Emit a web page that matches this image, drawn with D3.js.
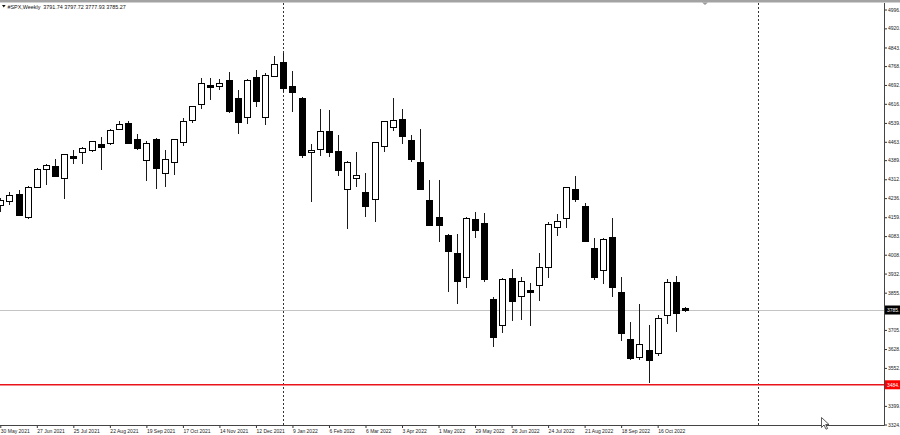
<!DOCTYPE html>
<html><head><meta charset="utf-8">
<script src="https://cdn.jsdelivr.net/npm/d3@7/dist/d3.min.js"></script>
<style>
html,body{margin:0;padding:0;background:#fff;}
svg{display:block;font-family:"Liberation Sans",Arial,sans-serif;}
</style></head>
<body>
<svg id="chart" width="900" height="435"></svg>
<script>
// ---- data ----
const weeks = [
"2021-05-30","2021-06-06","2021-06-13","2021-06-20","2021-06-27","2021-07-04","2021-07-11","2021-07-18","2021-07-25","2021-08-01",
"2021-08-08","2021-08-15","2021-08-22","2021-08-29","2021-09-05","2021-09-12","2021-09-19","2021-09-26","2021-10-03","2021-10-10",
"2021-10-17","2021-10-24","2021-10-31","2021-11-07","2021-11-14","2021-11-21","2021-11-28","2021-12-05","2021-12-12","2021-12-19",
"2021-12-26","2022-01-02","2022-01-09","2022-01-16","2022-01-23","2022-01-30","2022-02-06","2022-02-13","2022-02-20","2022-02-27",
"2022-03-06","2022-03-13","2022-03-20","2022-03-27","2022-04-03","2022-04-10","2022-04-17","2022-04-24","2022-05-01","2022-05-08",
"2022-05-15","2022-05-22","2022-05-29","2022-06-05","2022-06-12","2022-06-19","2022-06-26","2022-07-03","2022-07-10","2022-07-17",
"2022-07-24","2022-07-31","2022-08-07","2022-08-14","2022-08-21","2022-08-28","2022-09-04","2022-09-11","2022-09-18","2022-09-25",
"2022-10-02","2022-10-09","2022-10-16","2022-10-23","2022-10-30","2022-11-06"];
const open  = [4210,4226,4252,4160,4282,4352,4365,4316,4404,4420, 4428,4454,4457,4513,4540,4474,4390,4476,4338,4380,
               4462,4552,4614,4693,4686,4712,4641,4562,4723,4562, 4728,4786,4688,4641,4421,4435,4506,4427,4272,4318,
               4262,4232,4447,4524,4554,4469,4383,4228,4161,4088, 4013,3919,4152,4137,3828,3724,3913,3842,3866,3885,
               3960,4121,4155,4272,4205,4034,3946,4078,3859,3668, 3595,3624,3613,3764,3897,3791.74];
const high  = [4238,4262,4268,4286,4356,4372,4394,4415,4430,4442, 4468,4481,4513,4546,4548,4494,4465,4480,4430,4476,
               4560,4608,4719,4720,4718,4744,4672,4714,4754,4742, 4809,4819,4749,4645,4454,4595,4591,4490,4386,4421,
               4336,4463,4548,4638,4594,4490,4515,4309,4309,4092, 4090,4158,4181,4175,3838,3914,3950,3920,3893,4014,
               4140,4172,4281,4325,4218,4074,4077,4155,3920,3738, 3809,3724,3765,3912,3922,3797.72];
const low   = [4180,4210,4164,4150,4277,4289,4321,4231,4373,4373, 4420,4350,4450,4510,4455,4428,4306,4273,4279,4329,
               4445,4537,4596,4631,4673,4580,4496,4535,4602,4532, 4728,4665,4582,4396,4222,4406,4401,4325,4110,4282,
               4159,4141,4423,4508,4453,4383,4267,4124,4060,3858, 3810,3875,4074,3900,3637,3691,3741,3745,3722,3823,
               3913,4083,4114,4219,4063,3905,3889,3839,3660,3584, 3584,3490,3600,3729,3698,3777.93];
const close = [4230,4247,4170,4281,4352,4369,4327,4412,4398,4438, 4466,4443,4510,4536,4460,4437,4457,4357,4394,4474,
               4546,4607,4699,4684,4698,4586,4541,4712,4627,4732, 4775,4678,4665,4410,4430,4506,4423,4349,4383,4330,
               4206,4461,4547,4550,4486,4392,4274,4129,4128,4024, 3901,4155,4108,3909,3678,3909,3823,3902,3859,3960,
               4132,4144,4280,4231,4063,3919,4070,3879,3691,3591, 3647,3584,3752,3900,3774,3785.27];
const priceTicks = [4996,4920,4843,4768,4692,4616,4539,4463,4389,4312,4236,4159,4083,4008,3932,3855,3780,3705,3628,3552,3475,3399,3324];
const dateTicks = ["2021-05-30","2021-06-27","2021-07-25","2021-08-22","2021-09-19","2021-10-17","2021-11-14","2021-12-12",
                   "2022-01-09","2022-02-06","2022-03-06","2022-04-03","2022-05-01","2022-05-29","2022-06-26","2022-07-24",
                   "2022-08-21","2022-09-18","2022-10-16"];
const separators = ["2022-01-02","2023-01-01"];
const lastPrice = 3785.27;
const levelPrice = 3484;
const headerText = "#SPX,Weekly  3791.74 3797.72 3777.93 3785.27";

// ---- chart ----
const parse = d3.utcParse("%Y-%m-%d");
const fmt = d3.utcFormat("%-d %b %Y");
const svg = d3.select("#chart");
const W = 900, H = 435, axisX = 884, axisY = 425, topY = 3;

const x = d3.scaleUtc().domain([parse(weeks[0]), parse(weeks[weeks.length-1])]).range([0.3, 685.05]);
const y = d3.scaleLinear().domain([3324, 4996]).range([424.5, 9.5]);

const bars = weeks.map((w,i)=>({d:parse(w),o:open[i],h:high[i],l:low[i],c:close[i]}));

svg.append("rect").attr("x",0).attr("y",0).attr("width",W).attr("height",H).attr("fill","#fff");
svg.append("defs").append("clipPath").attr("id","plot").append("rect")
  .attr("x",0).attr("y",topY).attr("width",axisX).attr("height",axisY-topY);

const plot = svg.append("g").attr("clip-path","url(#plot)");

// separators
plot.selectAll("line.sep").data(separators).join("line").attr("class","sep")
  .attr("x1",d=>Math.round(x(parse(d)))+0.5).attr("x2",d=>Math.round(x(parse(d)))+0.5)
  .attr("y1",topY).attr("y2",axisY)
  .attr("stroke","#333").attr("stroke-width",1).attr("stroke-dasharray","2,2");

// last price line
plot.append("line").attr("x1",0).attr("x2",axisX).attr("y1",Math.round(y(lastPrice))+0.5).attr("y2",Math.round(y(lastPrice))+0.5)
  .attr("stroke","#c4c4c4").attr("stroke-width",1);

// candles
const cg = plot.selectAll("g.c").data(bars).join("g").attr("class","c").attr("shape-rendering","crispEdges");
cg.append("line")
  .attr("x1",d=>Math.round(x(d.d))+0.5).attr("x2",d=>Math.round(x(d.d))+0.5)
  .attr("y1",d=>y(d.h)).attr("y2",d=>y(d.l)).attr("stroke","#1a1a1a").attr("stroke-width",1);
cg.append("rect")
  .attr("x",d=>Math.round(x(d.d))-3+0.5).attr("width",6)
  .attr("y",d=>Math.round(y(Math.max(d.o,d.c)))+0.5)
  .attr("height",d=>Math.max(0,Math.round(y(Math.min(d.o,d.c)))-Math.round(y(Math.max(d.o,d.c)))))
  .attr("fill",d=>d.c>=d.o?"#fff":"#000").attr("stroke","#000").attr("stroke-width",1);

// level line (red)
plot.append("line").attr("x1",0).attr("x2",axisX).attr("y1",y(levelPrice)).attr("y2",y(levelPrice))
  .attr("stroke","#e8141a").attr("stroke-width",1.4);

// top band
svg.append("rect").attr("x",0).attr("y",0).attr("width",W).attr("height",2.5).attr("fill","#a3a3a3");
svg.append("path").attr("d","M702,2.5 L708,2.5 L705,5 Z").attr("fill","#9a9a9a");

// header
svg.append("path").attr("d","M2,5 L5.6,5 L3.8,7.6 Z").attr("fill","#111");
svg.append("text").attr("x",7.5).attr("y",8.6).attr("font-size",5.4).attr("fill","#111")
  .style("white-space","pre").text(headerText);

// right axis (labels hidden where a price tag covers them)
const tagPrices = [lastPrice, levelPrice];
const ra = svg.append("g").attr("transform",`translate(${axisX},0)`)
  .call(d3.axisRight(y).tickValues(priceTicks).tickSize(3).tickPadding(1)
    .tickFormat(d=>tagPrices.some(p=>Math.abs(y(p)-y(d))<7)?"":d+"."));
ra.select(".domain").remove();
ra.selectAll("line").attr("stroke","#333");
ra.selectAll("text").attr("font-size",5).attr("fill","#222").attr("font-family","Liberation Sans, Arial, sans-serif");

// bottom axis
const ba = svg.append("g").attr("transform",`translate(0,${axisY})`)
  .call(d3.axisBottom(x).tickValues(dateTicks.map(parse)).tickSize(3).tickFormat(fmt));
ba.select(".domain").remove();
ba.selectAll("line").attr("stroke","#333");
ba.selectAll("text").attr("font-size",5).attr("fill","#222").attr("font-family","Liberation Sans, Arial, sans-serif")
  .attr("text-anchor","start").attr("x",0).attr("y",4);

// axis lines
svg.append("line").attr("x1",0).attr("x2",axisX+0.5).attr("y1",axisY+0.5).attr("y2",axisY+0.5).attr("stroke","#444");
svg.append("line").attr("x1",axisX+0.5).attr("x2",axisX+0.5).attr("y1",topY).attr("y2",axisY+0.5).attr("stroke","#444");

// price labels
function priceTag(p, bg){
  const yy = y(p);
  svg.append("rect").attr("x",axisX+1).attr("y",yy-4.5).attr("width",W-axisX-1).attr("height",9).attr("fill",bg);
  svg.append("text").attr("x",axisX+3).attr("y",yy).attr("dy","0.35em").attr("font-size",5).attr("fill","#fff")
    .text(Math.floor(p)+".");
}
priceTag(lastPrice,"#000");
priceTag(levelPrice,"#f00");

// mouse cursor
svg.append("path").attr("d","M821.5,417.5 L821.5,427.5 L824,425 L826,429.2 L827.6,428.5 L825.7,424.5 L829,424.5 Z")
  .attr("fill","#fff").attr("stroke","#333").attr("stroke-width",0.8);
</script>
</body></html>
